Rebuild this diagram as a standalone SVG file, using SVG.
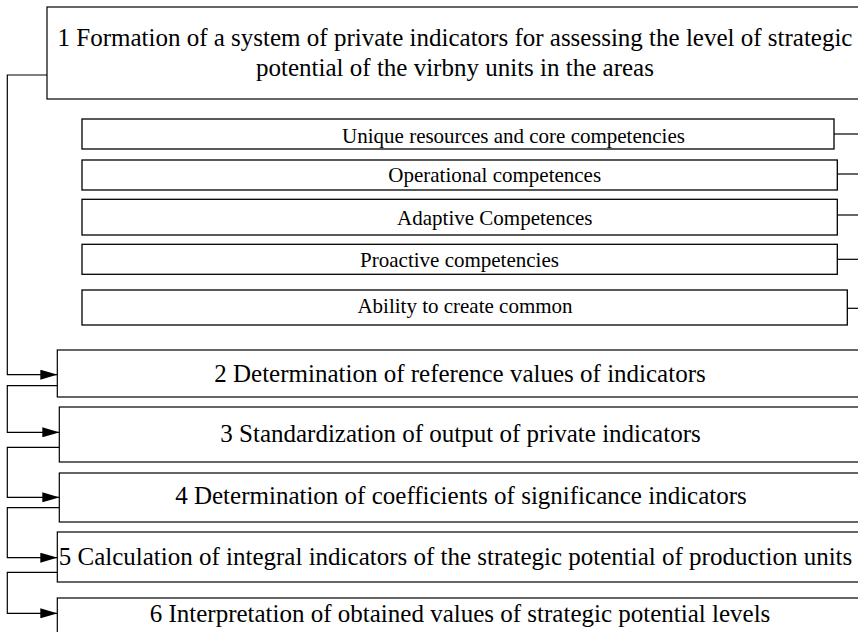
<svg xmlns="http://www.w3.org/2000/svg" width="858" height="632" viewBox="0 0 858 632">
<defs>
<style>
.box{fill:#fff;stroke:#000;stroke-width:1.2}
.sub{fill:#fff;stroke:#000;stroke-width:1.3}
.t{font-family:'Liberation Serif','Times New Roman',serif;font-size:25px;fill:#000;text-anchor:middle}
.s{font-family:'Liberation Serif','Times New Roman',serif;font-size:21px;fill:#000;text-anchor:middle}
.c{fill:none;stroke:#000;stroke-width:1.2}
</style>
<marker id="arr" viewBox="0 0 17 10" refX="17" refY="5" markerWidth="17" markerHeight="10" markerUnits="userSpaceOnUse" orient="auto">
<path d="M0,0 L17,5 L0,10 Z" fill="#000"/>
</marker>
</defs>
<rect width="858" height="632" fill="#fff"/>
<g id="n1">
<rect class="box" x="47" y="7" width="830" height="92"/>
<text class="t" x="455" y="46">1 Formation of a system of private indicators for assessing the level of strategic</text>
<text class="t" x="455" y="76">potential of the virbny units in the areas</text>
</g>
<g id="s1">
<rect class="sub" x="82" y="119" width="752" height="30"/>
<text class="s" x="513.5" y="143">Unique resources and core competencies</text>
</g>
<g id="s2">
<rect class="sub" x="82" y="160" width="755.3" height="30"/>
<text class="s" x="494.7" y="182">Operational competences</text>
</g>
<g id="s3">
<rect class="sub" x="82" y="199.3" width="755.3" height="35.7"/>
<text class="s" x="494.8" y="225">Adaptive Competences</text>
</g>
<g id="s4">
<rect class="sub" x="82" y="244.3" width="755.3" height="30"/>
<text class="s" x="459.5" y="267">Proactive competencies</text>
</g>
<g id="s5">
<rect class="sub" x="82" y="290" width="765.3" height="35"/>
<text class="s" x="465" y="313">Ability to create common</text>
</g>
<g id="n2">
<rect class="box" x="57.3" y="350" width="820" height="47"/>
<text class="t" x="460" y="382">2 Determination of reference values of indicators</text>
</g>
<g id="n3">
<rect class="box" x="59.3" y="407" width="820" height="55"/>
<text class="t" x="460.5" y="442">3 Standardization of output of private indicators</text>
</g>
<g id="n4">
<rect class="box" x="59.3" y="473" width="820" height="49"/>
<text class="t" x="461" y="504">4 Determination of coefficients of significance indicators</text>
</g>
<g id="n5">
<rect class="box" x="57.3" y="532" width="820" height="50"/>
<text class="t" x="455.5" y="565">5 Calculation of integral indicators of the strategic potential of production units</text>
</g>
<g id="n6">
<rect class="box" x="57.3" y="598" width="820" height="50"/>
<text class="t" x="460" y="622">6 Interpretation of obtained values of strategic potential levels</text>
</g>
<g id="connectors">
<path class="c" d="M47,75 H7.3 V374.7 H57.3" marker-end="url(#arr)"/>
<path class="c" d="M57.3,385.7 H7.3 V432.3 H59.3" marker-end="url(#arr)"/>
<path class="c" d="M59.3,447.3 H7.3 V497.3 H59.3" marker-end="url(#arr)"/>
<path class="c" d="M59.3,507.7 H7.3 V557.7 H57.3" marker-end="url(#arr)"/>
<path class="c" d="M57.3,572.3 H7.3 V613.3 H57.3" marker-end="url(#arr)"/>
<path class="c" d="M834,134 H858"/>
<path class="c" d="M837.3,174 H858"/>
<path class="c" d="M837.3,215 H858"/>
<path class="c" d="M837.3,259.3 H858"/>
<path class="c" d="M847.3,308.3 H858"/>
</g>
</svg>
